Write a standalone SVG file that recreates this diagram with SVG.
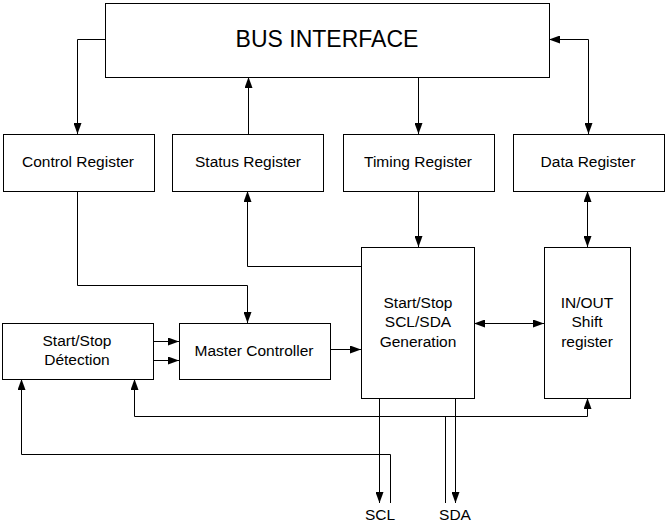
<svg xmlns="http://www.w3.org/2000/svg" width="666" height="532" viewBox="0 0 666 532">
<style>
.box{fill:#fff;stroke:#000;stroke-width:1}
.ln{fill:none;stroke:#000;stroke-width:1}
.ar{marker-end:url(#ah)}
.ab{marker-start:url(#ah);marker-end:url(#ah)}
text{font-family:"Liberation Sans",Arial,sans-serif;font-size:15.5px;fill:#000;text-anchor:middle}
.big{font-size:23px}
</style>
<defs>
<marker id="ah" markerUnits="userSpaceOnUse" markerWidth="11" markerHeight="8" refX="11" refY="4" orient="auto-start-reverse" viewBox="0 0 11 8">
<path d="M0,0 L11,4 L0,8 z" fill="#000"/>
</marker>
</defs>
<rect width="666" height="532" fill="#fff"/>
<g id="connectors">
<path class="ln ar" d="M105,39.5 H77.5 V134"/>
<path class="ln ar" d="M248.5,134 V77"/>
<path class="ln ar" d="M418.5,77 V134"/>
<path class="ln ab" d="M588.5,134 V39.5 H549"/>
<path class="ln ar" d="M77.5,191 V285.5 H247.5 V323"/>
<path class="ln ar" d="M361,266.5 H247.5 V191"/>
<path class="ln ar" d="M418.5,191 V247"/>
<path class="ln ab" d="M587.5,191 V247"/>
<path class="ln ab" d="M474,323.5 H544"/>
<path class="ln ar" d="M330,349.5 H361"/>
<path class="ln ar" d="M153,341.5 H179"/>
<path class="ln ar" d="M153,360.5 H179"/>
<path class="ln ab" d="M134.5,379 V416.5 H587.5 V398"/>
<path class="ln" d="M445.5,503 V416.5"/>
<path class="ln ar" d="M379.5,398 V503"/>
<path class="ln ar" d="M455.5,398 V503"/>
<path class="ln ar" d="M390.5,503 V454.5 H21.5 V379"/>
</g>
<g id="bus"><rect class="box" x="105.5" y="3.5" width="444" height="74"/><text class="big" x="327" y="47">BUS INTERFACE</text></g>
<g id="control"><rect class="box" x="3.5" y="134.5" width="151" height="57"/><text x="78" y="167">Control Register</text></g>
<g id="status"><rect class="box" x="172.5" y="134.5" width="151" height="57"/><text x="248" y="167">Status Register</text></g>
<g id="timing"><rect class="box" x="343.5" y="134.5" width="151" height="57"/><text x="418" y="167">Timing Register</text></g>
<g id="data"><rect class="box" x="513.5" y="134.5" width="151" height="57"/><text x="588" y="167">Data Register</text></g>
<g id="ssgen"><rect class="box" x="361.5" y="247.5" width="113" height="151"/><text x="418" y="308">Start/Stop</text><text x="418" y="327">SCL/SDA</text><text x="418" y="347">Generation</text></g>
<g id="shift"><rect class="box" x="544.5" y="247.5" width="86" height="151"/><text x="587" y="308">IN/OUT</text><text x="587" y="327">Shift</text><text x="587" y="347">register</text></g>
<g id="detect"><rect class="box" x="2.5" y="323.5" width="151" height="56"/><text x="77" y="346">Start/Stop</text><text x="77" y="365">Détection</text></g>
<g id="master"><rect class="box" x="179.5" y="323.5" width="151" height="56"/><text x="254" y="356">Master Controller</text></g>
<g id="pins"><text x="380" y="520">SCL</text><text x="455" y="520">SDA</text></g>
</svg>
